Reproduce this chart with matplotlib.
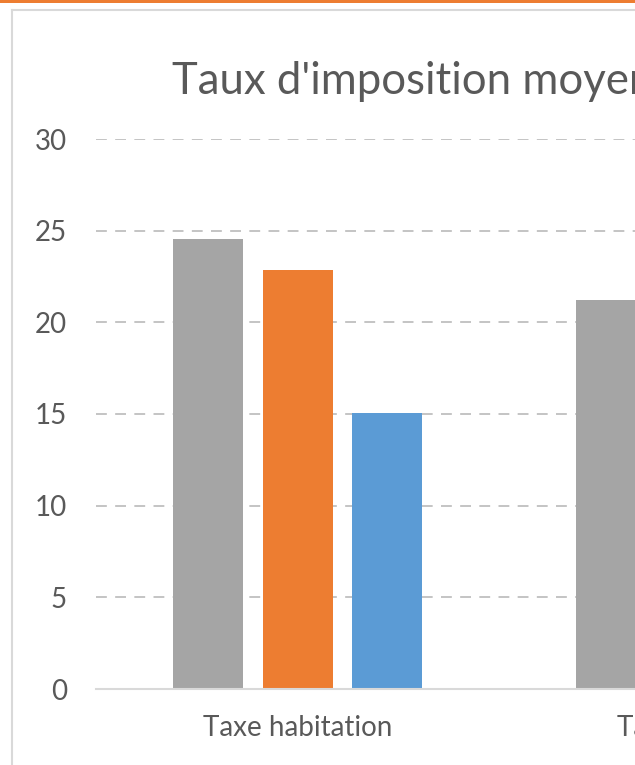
import numpy as np
import matplotlib.pyplot as plt
from matplotlib.patches import Rectangle
from matplotlib.lines import Line2D

# data (second group only partly visible)
categories = ['Taxe habitation', 'Taxe foncière']
serie_gris = [24.55, 21.2]
serie_orange = [22.85, 20.5]
serie_bleu = [15.05, 20.2]
couleurs = ['#A5A5A5', '#ED7D31', '#5B9BD5']
yticks = [0, 5, 10, 15, 20, 25, 30]

W, H = 635, 765
fig = plt.figure(figsize=(W / 100, H / 100), dpi=100)
fig.patch.set_facecolor('white')

# orange strip at the very top and chart border
fig.add_artist(Rectangle((0, 1 - 3 / H), 1, 3 / H, transform=fig.transFigure,
                         color='#ED7D31', lw=0))
fig.add_artist(Line2D([12 / W, 12 / W], [0, 1 - 10 / H], transform=fig.transFigure,
                      color='#D9D9D9', lw=1.5))
fig.add_artist(Line2D([12 / W, 1], [1 - 10 / H, 1 - 10 / H], transform=fig.transFigure,
                      color='#D9D9D9', lw=1.5))

n = len(categories)
cat_px = 403
ax = fig.add_axes([96 / W, 76 / H, cat_px * n / W, 550 / H])
ax.set_facecolor('none')

x = np.arange(n)
bw = 70 / cat_px
step = 89.5 / cat_px
for i, (vals, c) in enumerate(zip([serie_gris, serie_orange, serie_bleu], couleurs)):
    ax.bar(x + (i - 1) * step, vals, width=bw, color=c, zorder=3)

ax.set_xlim(-0.5, n - 0.5)
ax.set_ylim(0, 30)
ax.set_yticks(yticks)
ax.set_xticks(x)
ax.set_xticklabels(categories)
ax.yaxis.grid(True, color='#BABABA', lw=1.2, dashes=(6.5, 5), zorder=0)
ax.xaxis.grid(False)
for s in ['top', 'right', 'left']:
    ax.spines[s].set_visible(False)
ax.spines['bottom'].set_color('#D9D9D9')
ax.spines['bottom'].set_linewidth(1.5)
ax.spines['bottom'].set_zorder(4)
ax.tick_params(axis='both', length=0, colors='#595959', labelsize=20)
ax.tick_params(axis='y', pad=21)
ax.tick_params(axis='x', pad=19)
for lab in ax.get_xticklabels() + ax.get_yticklabels():
    lab.set_fontfamily('Lato')

fig.text(172 / W, 1 - 94 / H, "Taux d'imposition moyen", fontsize=31.5,
         color='#595959', family='Lato', ha='left', va='baseline')

fig.savefig('out.png', dpi=100)
